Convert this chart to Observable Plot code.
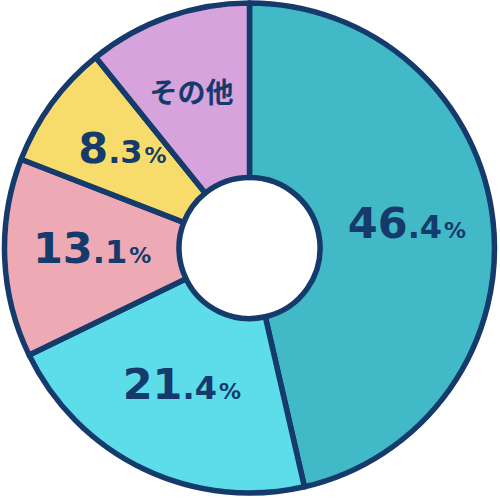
<!DOCTYPE html>
<html>
<head>
<meta charset="utf-8">
<script src="https://cdn.jsdelivr.net/npm/d3@7"></script>
<script src="https://cdn.jsdelivr.net/npm/@observablehq/plot@0.6"></script>
<style>
  html, body { margin: 0; padding: 0; background: #fff; }
  #chart svg { display: block; }
</style>
</head>
<body>
<div id="chart"></div>
<script>
// ---- data ----
const labels = ["46.4%", "21.4%", "13.1%", "8.3%", "その他"];
const values = [46.4, 21.4, 13.1, 8.3, 10.8];
const colors = ["#42B9C7", "#5DDDEA", "#EDA9B4", "#F8DC6B", "#D6A3DC"];

const ink = "#153A6C";
const innerFrac = 0.288;
const labelFrac = 0.645;

const data = labels.map((label, i) => ({label, value: values[i], color: colors[i]}));
const arcs = d3.pie().sort(null).value(d => d.value)(data);
const labelData = arcs.map(a => {
  const m = (a.startAngle + a.endAngle) / 2;
  return {label: a.data.label, x: labelFrac * Math.sin(m), y: labelFrac * Math.cos(m)};
});

function donut(index, scales) {
  const cx = scales.x(0), cy = scales.y(0), R = scales.x(1) - cx;
  const arc = d3.arc().innerRadius(R * innerFrac).outerRadius(R);
  const g = d3.create("svg:g").attr("transform", `translate(${cx},${cy})`);
  g.selectAll("path").data(arcs).join("path")
    .attr("d", arc)
    .attr("fill", d => d.data.color)
    .attr("stroke", ink)
    .attr("stroke-width", 5.5)
    .attr("stroke-linejoin", "round");
  return g.node();
}

const chart = Plot.plot({
  width: 500,
  height: 499,
  marginLeft: 4.5,
  marginRight: 5.5,
  marginTop: 3,
  marginBottom: 6,
  x: {domain: [-1, 1], axis: null},
  y: {domain: [-1, 1], axis: null},
  marks: [
    donut,
    Plot.text(labelData, {
      x: "x", y: "y", text: "label",
      fill: ink, fontSize: 43, fontWeight: "bold",
      fontFamily: "'DejaVu Sans', sans-serif",
      textAnchor: "middle", dy: -6
    })
  ]
});

// style the numeric labels: large integer part, smaller decimal and percent sign
d3.select(chart).selectAll("text").each(function() {
  const t = d3.select(this);
  const s = this.textContent;
  const m = s.match(/^(\d+)(\.\d+)(%)$/);
  t.text(null);
  if (m) {
    t.append("tspan").attr("font-size", 43).text(m[1]);
    t.append("tspan").attr("font-size", 32).text(m[2]);
    t.append("tspan").attr("font-size", 22).attr("dx", 2).text(m[3]);
  } else {
    t.append("tspan").attr("font-size", 28)
      .attr("font-family", "'Noto Sans CJK JP', sans-serif")
      .attr("dx", -6)
      .attr("dy", "-0.15em")
      .text(s);
  }
});

document.getElementById("chart").append(chart);
</script>
</body>
</html>
